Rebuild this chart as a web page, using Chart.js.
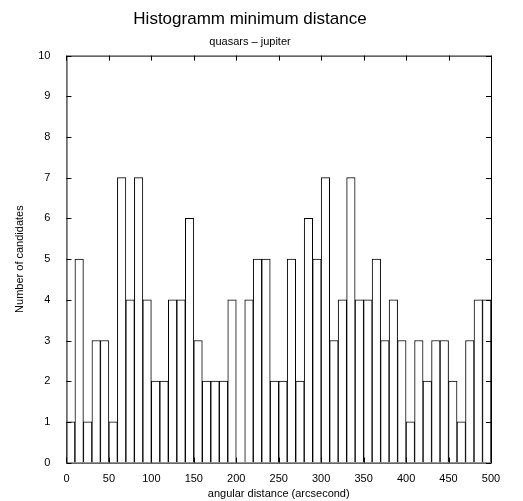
<!DOCTYPE html>
<html><head><meta charset="utf-8">
<script src="https://cdn.jsdelivr.net/npm/chart.js@4/dist/chart.umd.min.js"></script>
<style>
body{margin:0;background:#fff}
#wrap{width:523px;height:501px;position:relative}
</style></head>
<body><div id="wrap"><canvas id="c" width="523" height="501"></canvas></div>
<script>
const binStarts = [0,10,20,30,40,50,60,70,80,90,100,110,120,130,140,150,160,170,180,190,200,210,220,230,240,
  250,260,270,280,290,300,310,320,330,340,350,360,370,380,390,400,410,420,430,440,450,460,470,480,490];
const counts = [1,5,1,3,3,1,7,4,7,4,2,2,4,4,6,3,2,2,2,4,0,4,5,5,2,
  2,5,2,6,5,7,3,4,7,4,4,5,3,4,3,1,3,2,3,3,2,1,3,4,4];
const binWidth = 10;
const xTicks = [0,50,100,150,200,250,300,350,400,450,500];
const yTicks = [0,1,2,3,4,5,6,7,8,9,10];

const font = 'Liberation Sans, Arial, sans-serif';

const frame = {
  id: 'frame',
  afterDraw(chart) {
    const {ctx, chartArea: a, scales: {x, y}} = chart;
    ctx.save();
    ctx.strokeStyle = '#000';
    ctx.lineWidth = 1;
    ctx.strokeRect(a.left + 0.5, a.top + 0.5, a.right - a.left, a.bottom - a.top);
    ctx.beginPath();
    xTicks.forEach(v => {
      const px = Math.round(x.getPixelForValue(v)) + 0.5;
      ctx.moveTo(px, a.bottom); ctx.lineTo(px, a.bottom - 5);
      ctx.moveTo(px, a.top); ctx.lineTo(px, a.top + 5);
    });
    yTicks.forEach(v => {
      const py = Math.round(y.getPixelForValue(v)) + 0.5;
      ctx.moveTo(a.left, py); ctx.lineTo(a.left + 5, py);
      ctx.moveTo(a.right, py); ctx.lineTo(a.right - 5, py);
    });
    ctx.stroke();
    ctx.restore();
  }
};

new Chart(document.getElementById('c'), {
  type: 'bar',
  data: {
    datasets: [{
      data: binStarts.map((s, i) => ({x: s + binWidth / 2, y: counts[i]})),
      backgroundColor: '#fff',
      borderColor: '#000',
      borderWidth: 1,
      barPercentage: 1,
      categoryPercentage: 1
    }]
  },
  options: {
    responsive: false,
    animation: false,
    layout: {padding: {left: 9, right: 32, top: 0, bottom: 0}},
    plugins: {
      legend: {display: false},
      tooltip: {enabled: false},
      title: {display: true, text: 'Histogramm minimum distance', color: '#000',
        font: {family: font, size: 17, weight: 'normal'}, padding: {top: 9, bottom: 6}},
      subtitle: {display: true, text: 'quasars – jupiter', color: '#000',
        font: {family: font, size: 11}, padding: {bottom: 7}}
    },
    scales: {
      x: {
        type: 'linear', min: 0, max: 500, offset: false,
        afterBuildTicks: s => { s.ticks = xTicks.map(v => ({value: v})); },
        grid: {display: false}, border: {display: false},
        ticks: {color: '#000', font: {family: font, size: 11}, padding: 2, maxRotation: 0},
        title: {display: true, text: 'angular distance (arcsecond)', color: '#000',
          font: {family: font, size: 11}, padding: {top: 0, bottom: 0}}
      },
      y: {
        min: 0, max: 10,
        afterBuildTicks: s => { s.ticks = yTicks.map(v => ({value: v})); },
        grid: {display: false}, border: {display: false},
        ticks: {color: '#000', font: {family: font, size: 11}, padding: 8},
        title: {display: true, text: 'Number of candidates', color: '#000',
          font: {family: font, size: 11}, padding: {bottom: 4}}
      }
    }
  },
  plugins: [frame]
});
</script></body></html>
